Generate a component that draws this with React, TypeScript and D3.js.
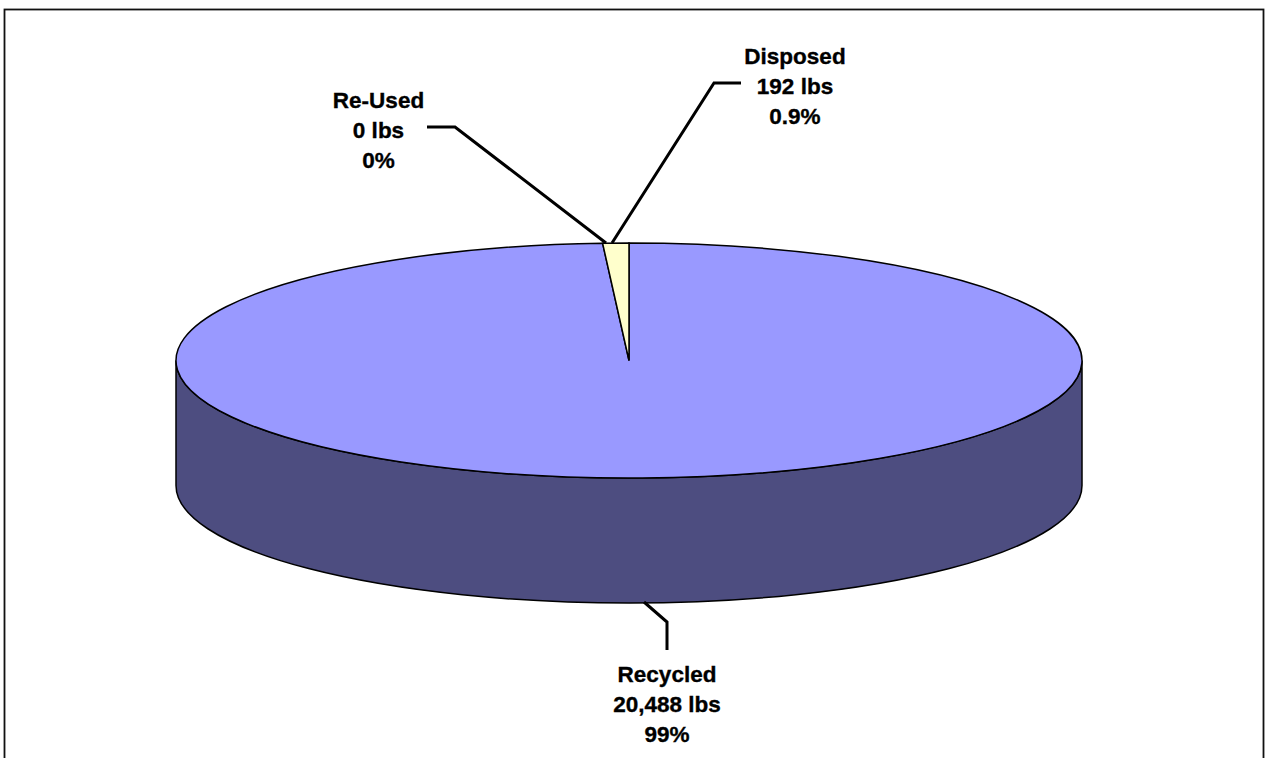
import React from "react";
import * as d3 from "d3";

const categories = ["Recycled", "Re-Used", "Disposed"];
const pounds = [20488, 0, 192];
const poundLabels = ["20,488 lbs", "0 lbs", "192 lbs"];
const percentLabels = ["99%", "0%", "0.9%"];
const colors = ["#9999FF", "#993366", "#FFFFCC"];
const sideColor = "#4D4D80";

const W = 1265, H = 758;
const cx = 629, cy = 360.5, rx = 453, ry = 117.5, depth = 125;
const labelPos: Record<string, { x: number; y: number }> = {
  Recycled: { x: 667, y: 682 },
  "Re-Used": { x: 378.5, y: 108 },
  Disposed: { x: 795, y: 64 },
};
const leaders: Record<string, [number, number][]> = {
  Recycled: [[644, 602], [667, 622], [667, 650]],
  "Re-Used": [[427, 127], [455, 127], [606, 243]],
  Disposed: [[741, 83], [714, 83], [612, 243]],
};

export default function App() {
  const pie = d3.pie<number>().sort(null).startAngle(0).endAngle(2 * Math.PI);
  const arcs = pie(pounds);
  const arc = d3.arc<d3.PieArcDatum<number>>().innerRadius(0).outerRadius(100);
  const line = d3.line();
  const side = `M${cx - rx},${cy} A${rx},${ry} 0 0 0 ${cx + rx},${cy} L${cx + rx},${cy + depth} A${rx},${ry} 0 0 1 ${cx - rx},${cy + depth} Z`;
  return (
    <svg
      width={W}
      height={H}
      viewBox={`0 0 ${W} ${H}`}
      style={{ position: "absolute", left: 0, top: 0, display: "block", background: "#fff" }}
      fontFamily="'Liberation Sans', Arial, sans-serif"
    >
      <rect x={4.5} y={9.5} width={1259} height={770} fill="#fff" stroke="#111" strokeWidth={1.8} />
      <path d={side} fill={sideColor} stroke="#000" strokeWidth={1.5} />
      <g transform={`translate(${cx},${cy}) scale(${rx / 100},${ry / 100})`}>
        {arcs.map((a, i) =>
          pounds[i] > 0 ? (
            <path
              key={categories[i]}
              d={arc(a) ?? ""}
              fill={colors[i]}
              stroke="#000"
              strokeWidth={1.5}
              vectorEffect="non-scaling-stroke"
            />
          ) : null
        )}
      </g>
      {categories.map((c) => (
        <path key={c} d={line(leaders[c]) ?? ""} fill="none" stroke="#000" strokeWidth={3} />
      ))}
      {categories.map((c, i) => (
        <text key={c} textAnchor="middle" fontWeight="bold" fontSize={22.5} fill="#000" stroke="#000" strokeWidth={0.35}>
          {[c, poundLabels[i], percentLabels[i]].map((t, j) => (
            <tspan key={j} x={labelPos[c].x} y={labelPos[c].y + j * 30}>
              {t}
            </tspan>
          ))}
        </text>
      ))}
    </svg>
  );
}
